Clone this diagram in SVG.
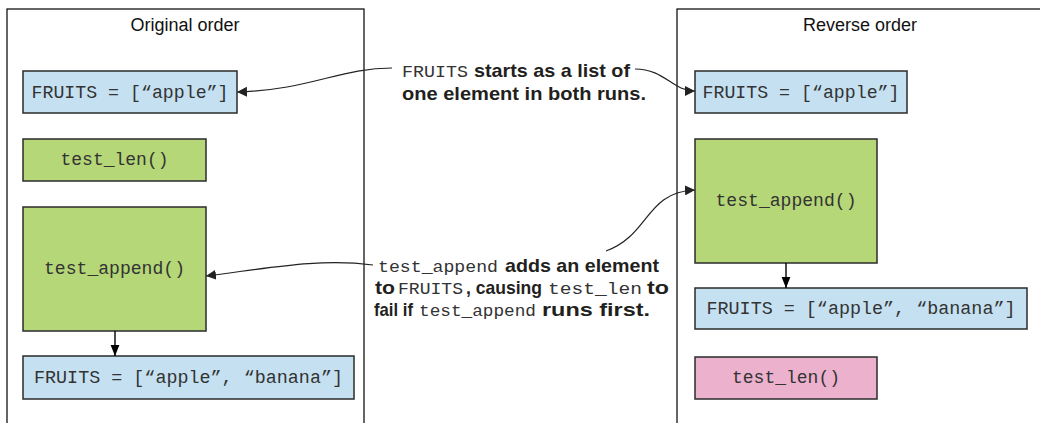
<svg xmlns="http://www.w3.org/2000/svg" width="1040" height="423" viewBox="0 0 1040 423">
<defs>
<style>
.panel{fill:#fff;stroke:#000;stroke-width:1.2}
.blue{fill:#c5e1f1;stroke:#2b2b2b;stroke-width:1.5}
.green{fill:#b5d778;stroke:#2b2b2b;stroke-width:1.5}
.pink{fill:#ebb1cd;stroke:#2b2b2b;stroke-width:1.5}
.title{font-family:"Liberation Sans",Arial,sans-serif;font-size:18px;fill:#111;text-anchor:middle}
.code{font-family:"Liberation Mono","Courier New",monospace;font-size:17.5px;fill:#333;text-anchor:middle}
.m{font-family:"Liberation Mono","Courier New",monospace;font-size:16.5px;fill:#333}
.b{font-family:"Liberation Sans",Arial,sans-serif;font-size:19px;font-weight:bold;fill:#231f20}
.conn{fill:none;stroke:#222;stroke-width:1.2}
.vconn{fill:none;stroke:#000;stroke-width:1.4}
</style>
<marker id="ah" viewBox="0 0 10 10" refX="10" refY="5" markerWidth="10" markerHeight="10" markerUnits="userSpaceOnUse" orient="auto">
<path d="M0,0 L10,5 L0,10 z" fill="#222"/>
</marker>
<marker id="ahv" viewBox="0 0 10 10" refX="10" refY="5" markerWidth="11" markerHeight="11" markerUnits="userSpaceOnUse" orient="auto">
<path d="M0,1 L10,5 L0,9 z" fill="#000"/>
</marker>
</defs>

<g id="panel-original">
<rect class="panel" x="7" y="9" width="357" height="430"/>
<text class="title" x="185" y="31">Original order</text>
</g>
<g id="panel-reverse">
<rect class="panel" x="677" y="9" width="380" height="430"/>
<text class="title" x="860" y="31">Reverse order</text>
</g>

<g id="orig-fruits-apple">
<rect class="blue" x="23" y="71" width="214" height="42"/>
<text class="code" x="130" y="98" textLength="197" lengthAdjust="spacingAndGlyphs">FRUITS = [“apple”]</text>
</g>
<g id="orig-test-len">
<rect class="green" x="23" y="139" width="183" height="42"/>
<text class="code" x="114.5" y="165" textLength="108" lengthAdjust="spacingAndGlyphs">test_len()</text>
</g>
<g id="orig-test-append">
<rect class="green" x="23" y="207" width="183" height="124"/>
<text class="code" x="114.5" y="274" textLength="141" lengthAdjust="spacingAndGlyphs">test_append()</text>
</g>
<g id="orig-fruits-banana">
<rect class="blue" x="23" y="356" width="331" height="43"/>
<text class="code" x="188.5" y="383" textLength="309" lengthAdjust="spacingAndGlyphs">FRUITS = [“apple”, “banana”]</text>
</g>

<g id="rev-fruits-apple">
<rect class="blue" x="695" y="71" width="212" height="42"/>
<text class="code" x="801" y="98" textLength="197" lengthAdjust="spacingAndGlyphs">FRUITS = [“apple”]</text>
</g>
<g id="rev-test-append">
<rect class="green" x="695" y="139" width="182" height="124"/>
<text class="code" x="786" y="206" textLength="141" lengthAdjust="spacingAndGlyphs">test_append()</text>
</g>
<g id="rev-fruits-banana">
<rect class="blue" x="695" y="288" width="332" height="41"/>
<text class="code" x="861" y="314" textLength="309" lengthAdjust="spacingAndGlyphs">FRUITS = [“apple”, “banana”]</text>
</g>
<g id="rev-test-len">
<rect class="pink" x="695" y="357" width="182" height="42"/>
<text class="code" x="786" y="383" textLength="108" lengthAdjust="spacingAndGlyphs">test_len()</text>
</g>

<g id="note-fruits">
<text class="m" x="402" y="77" textLength="66" lengthAdjust="spacingAndGlyphs">FRUITS</text>
<text class="b" x="474" y="77" textLength="156" lengthAdjust="spacingAndGlyphs">starts as a list of</text>
<text class="b" x="402" y="100" textLength="244" lengthAdjust="spacingAndGlyphs">one element in both runs.</text>
</g>
<g id="note-append">
<text class="m" x="378" y="272" textLength="120" lengthAdjust="spacingAndGlyphs">test_append</text>
<text class="b" x="505" y="272" textLength="154" lengthAdjust="spacingAndGlyphs">adds an element</text>
<text class="b" x="375" y="294" textLength="20" lengthAdjust="spacingAndGlyphs">to</text>
<text class="m" x="398" y="294" textLength="65" lengthAdjust="spacingAndGlyphs">FRUITS</text>
<text class="b" x="466" y="294" textLength="76" lengthAdjust="spacingAndGlyphs">, causing</text>
<text class="m" x="548" y="294" textLength="94" lengthAdjust="spacingAndGlyphs">test_len</text>
<text class="b" x="647" y="294" textLength="22" lengthAdjust="spacingAndGlyphs">to</text>
<text class="b" x="374" y="316" textLength="39" lengthAdjust="spacingAndGlyphs">fail if</text>
<text class="m" x="419" y="316" textLength="117" lengthAdjust="spacingAndGlyphs">test_append</text>
<text class="b" x="542" y="316" textLength="108" lengthAdjust="spacingAndGlyphs">runs first.</text>
</g>

<g id="connectors">
<path class="conn" d="M392,68 C340,68 310,90 237,92" marker-end="url(#ah)"/>
<path class="conn" d="M635,69 C665,69 672,91 695,91" marker-end="url(#ah)"/>
<path class="conn" d="M373,265 C320,258 270,268 206,276" marker-end="url(#ah)"/>
<path class="conn" d="M606,251 C650,235 645,192 695,190" marker-end="url(#ah)"/>
<path class="vconn" d="M115,331 L115,356" marker-end="url(#ahv)"/>
<path class="vconn" d="M786,263 L786,288" marker-end="url(#ahv)"/>
</g>
</svg>
